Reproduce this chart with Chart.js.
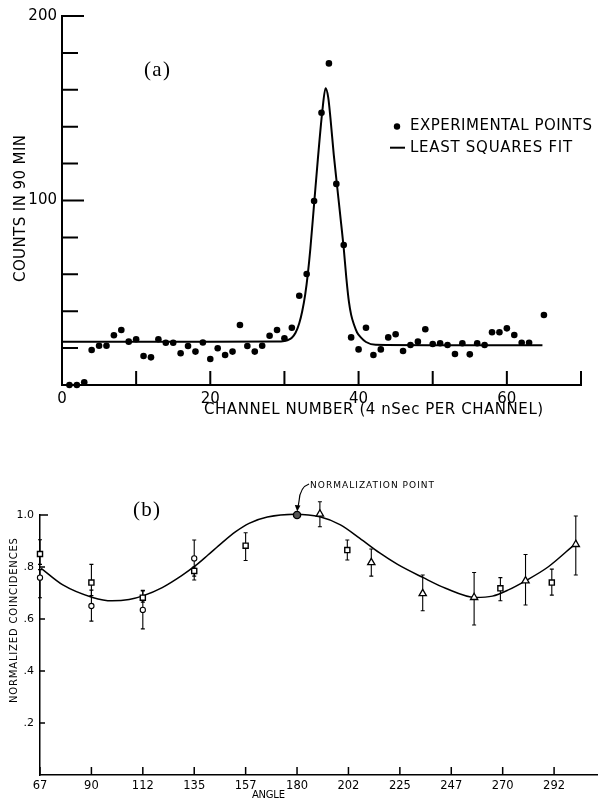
<!DOCTYPE html>
<html><head><meta charset="utf-8">
<script src="https://cdn.jsdelivr.net/npm/chart.js@4.4.1/dist/chart.umd.min.js"></script>
<style>
html,body{margin:0;padding:0;background:#fff;}
#wrap{position:relative;width:603px;height:800px;background:#fff;}
#c1{position:absolute;left:0;top:0;}
#c2{position:absolute;left:0;top:430px;}
</style></head><body>
<div id="wrap">
<canvas id="c1" width="603" height="430"></canvas>
<canvas id="c2" width="603" height="370"></canvas>
</div>
<script>
// ---------------- (a) data ----------------
const channels = [1,2,3,4,5,6,7,8,9,10,11,12,13,14,15,16,17,18,19,20,21,22,23,24,25,26,27,28,29,30,31,32,33,34,35,36,37,38,39,40,41,42,43,44,45,46,47,48,49,50,51,52,53,54,55,56,57,58,59,60,61,62,63,65];
const counts = [0,0,1.5,19,21.3,21.3,27,29.8,23.5,24.8,15.7,15,24.8,22.9,22.9,17.2,21.1,18.1,23,14.1,19.9,16.3,18.1,32.5,21.1,18.1,21.3,26.7,29.8,25.3,31,48.4,60.2,99.7,147.6,174.3,109,75.9,25.8,19.3,31,16.3,19.3,25.8,27.5,18.4,21.7,23.5,30.2,22.2,22.6,21.7,16.8,22.6,16.6,22.6,21.7,28.6,28.6,30.7,27.1,22.9,22.9,37.9];
const fitChannels = [0,10,20,29,30,30.5,31,31.5,32,32.4,32.8,33.15,33.5,34,34.5,35.1,35.55,35.9,36.2,36.65,37.1,37.5,38,38.35,38.7,39,39.4,39.8,40.3,41,42.3,50,64.8];
const fitCounts = [23.5,23.5,23.5,23.6,23.9,24.4,25.6,28.3,33.5,40,49,60,74,98,122,148,160.8,156,145,125,108,93,74,58,45,38,32.5,28.5,25.8,23.3,21.8,21.6,21.5];
const countLabelValues = [100,200];
const countMinorTicks = [20,40,60,80,120,140,160,180];
const channelLabelValues = [0,20,40,60];
const channelTickMarks = [10,20,30,40,50,60,70];

// ---------------- (b) data ----------------
const squareAngles = [67.5,90,112.5,135,157.5,202,269,291.5];
const squareValues = [0.85,0.74,0.682,0.785,0.882,0.865,0.718,0.74];
const squareLow    = [0.81,0.69,0.665,0.75,0.825,0.827,0.67,0.692];
const squareHigh   = [0.905,0.81,0.708,0.80,0.932,0.904,0.759,0.792];
const circleAngles = [67.5,90,112.5,135];
const circleValues = [0.759,0.65,0.635,0.833];
const circleLow    = [0.682,0.592,0.562,0.765];
const circleHigh   = [0.79,0.711,0.71,0.904];
const triangleAngles = [190,212.5,235,257.5,280,302];
const triangleValues = [1.004,0.817,0.698,0.683,0.747,0.887];
const triangleLow    = [0.955,0.765,0.632,0.577,0.654,0.769];
const triangleHigh   = [1.051,0.869,0.769,0.779,0.848,0.996];
const normAngles = [180];
const normValues = [1.0];
const curveAngles = [68,77.5,90.5,99,106.5,112.5,121,129.5,135.5,141,147,153,159,167,179,190,199,207.5,216,224,235,245,258,265.5,272.5,280,290,301.5];
const curveValues = [0.795,0.731,0.683,0.670,0.675,0.689,0.721,0.767,0.805,0.846,0.892,0.935,0.968,0.992,1.003,0.993,0.962,0.91,0.855,0.81,0.76,0.718,0.683,0.688,0.712,0.747,0.801,0.887];
const angleTickValues = [67.5,90,112.5,135,157.5,180,202.5,225,247.5,270,292.5];
const angleTickLabels = ['67','90','112','135','157','180','202','225','247','270','292'];
const coincTickValues = [0.2,0.4,0.6,0.8,1.0];
const coincTickLabels = ['.2','.4','.6','.8','1.0'];

Chart.defaults.font.family = "'DejaVu Sans', sans-serif";
Chart.defaults.color = '#000';

const zip = (xs, ys) => xs.map((x, i) => ({x, y: ys[i]}));

function fitText(ctx, text, cx, cy, width, font, rot) {
  ctx.save();
  ctx.font = font;
  ctx.fillStyle = '#000';
  if ('letterSpacing' in ctx) ctx.letterSpacing = '0px';
  const w = ctx.measureText(text).width;
  let drawW = w;
  if ('letterSpacing' in ctx && text.length > 1) {
    const sp = (width - w) / (text.length - 1);
    ctx.letterSpacing = sp.toFixed(2) + 'px';
    drawW = width;
  }
  ctx.translate(cx, cy);
  if (rot) ctx.rotate(rot);
  ctx.textAlign = 'left';
  ctx.textBaseline = 'middle';
  ctx.fillText(text, -drawW / 2, 0);
  ctx.restore();
}

// ---------------- chart (a) ----------------
const decoA = {
  id: 'decoA',
  afterDraw(chart) {
    const ctx = chart.ctx, xs = chart.scales.x, ys = chart.scales.y;
    const x0 = xs.left, y0 = ys.bottom;
    ctx.save();
    ctx.strokeStyle = '#000';
    ctx.lineWidth = 2;
    ctx.beginPath();
    countLabelValues.forEach(v => { const y = ys.getPixelForValue(v); ctx.moveTo(x0, y); ctx.lineTo(x0 + 22, y); });
    countMinorTicks.forEach(v => { const y = ys.getPixelForValue(v); ctx.moveTo(x0, y); ctx.lineTo(x0 + 16, y); });
    channelTickMarks.forEach(v => { const x = xs.getPixelForValue(v); ctx.moveTo(x, y0); ctx.lineTo(x, y0 - 14); });
    ctx.stroke();
    // legend
    ctx.fillStyle = '#000';
    ctx.beginPath(); ctx.arc(397, 126.5, 3.2, 0, Math.PI * 2); ctx.fill();
    ctx.beginPath(); ctx.moveTo(390, 147.7); ctx.lineTo(405, 147.7); ctx.stroke();
    ctx.restore();
    fitText(ctx, 'EXPERIMENTAL POINTS', 501, 126.5, 182, "15px 'DejaVu Sans'");
    fitText(ctx, 'LEAST SQUARES FIT', 491, 148.5, 162, "15px 'DejaVu Sans'");
    fitText(ctx, '(a)', 157, 70, 26, "21px 'Liberation Serif'");
    fitText(ctx, 'CHANNEL NUMBER (4 nSec PER CHANNEL)', 373.5, 410, 339, "15px 'DejaVu Sans'");
    fitText(ctx, 'COUNTS IN 90 MIN', 21, 208.5, 147, "15px 'DejaVu Sans'", -Math.PI / 2);
  }
};

new Chart(document.getElementById('c1'), {
  type: 'scatter',
  data: {
    datasets: [
      { label: 'EXPERIMENTAL POINTS', data: zip(channels, counts), pointRadius: 3.3, pointHoverRadius: 3.3,
        pointBackgroundColor: '#000', pointBorderWidth: 0, showLine: false, clip: false },
      { label: 'LEAST SQUARES FIT', data: zip(fitChannels, fitCounts), showLine: true, pointRadius: 0,
        borderColor: '#000', borderWidth: 2, cubicInterpolationMode: 'monotone', fill: false, clip: false }
    ]
  },
  options: {
    responsive: false, animation: false, devicePixelRatio: 1,
    layout: { padding: { top: 16, right: 22, left: 0, bottom: 0 } },
    plugins: { legend: { display: false }, tooltip: { enabled: false } },
    scales: {
      x: {
        type: 'linear', min: 0, max: 70,
        afterBuildTicks: s => { s.ticks = channelLabelValues.map(v => ({ value: v })); },
        afterFit: s => { s.height = 45; },
        grid: { display: false, drawTicks: false },
        border: { display: true, color: '#000', width: 2 },
        ticks: { color: '#000', font: { size: 15 }, padding: 5, maxRotation: 0, autoSkip: false, callback: v => String(v) }
      },
      y: {
        type: 'linear', min: 0, max: 200,
        afterBuildTicks: s => { s.ticks = countLabelValues.map(v => ({ value: v })); },
        afterFit: s => { s.width = 62; },
        grid: { display: false, drawTicks: false },
        border: { display: true, color: '#000', width: 2 },
        ticks: { color: '#000', font: { size: 15 }, padding: 5, autoSkip: false, callback: v => String(v) }
      }
    }
  },
  plugins: [decoA]
});

// ---------------- chart (b) ----------------
const decoB = {
  id: 'decoB',
  beforeDatasetsDraw(chart) {
    const ctx = chart.ctx, ys = chart.scales.y;
    ctx.save();
    ctx.strokeStyle = '#000';
    ctx.lineWidth = 1.1;
    chart.data.datasets.forEach((ds, i) => {
      if (!ds.errLow) return;
      const meta = chart.getDatasetMeta(i);
      meta.data.forEach((el, j) => {
        const yl = ys.getPixelForValue(ds.errLow[j]);
        const yh = ys.getPixelForValue(ds.errHigh[j]);
        ctx.beginPath();
        ctx.moveTo(el.x, yl); ctx.lineTo(el.x, yh);
        ctx.moveTo(el.x - 2, yl); ctx.lineTo(el.x + 2, yl);
        ctx.moveTo(el.x - 2, yh); ctx.lineTo(el.x + 2, yh);
        ctx.stroke();
      });
    });
    ctx.restore();
  },
  afterDraw(chart) {
    const ctx = chart.ctx, xs = chart.scales.x, ys = chart.scales.y;
    const x0 = xs.left, y0 = ys.bottom;
    ctx.save();
    ctx.strokeStyle = '#000';
    ctx.lineWidth = 1.5;
    ctx.beginPath();
    coincTickValues.forEach(v => { const y = ys.getPixelForValue(v); ctx.moveTo(x0, y); ctx.lineTo(x0 + (v === 1 ? 8 : 5), y); });
    angleTickValues.forEach(v => { const x = xs.getPixelForValue(v); ctx.moveTo(x, y0); ctx.lineTo(x, y0 - 8); });
    ctx.stroke();
    // normalization point leader with arrow
    const px = xs.getPixelForValue(normAngles[0]), py = ys.getPixelForValue(normValues[0]);
    ctx.lineWidth = 1.2;
    ctx.beginPath();
    ctx.moveTo(px + 12, py - 31);
    ctx.quadraticCurveTo(px + 3, py - 28, px + 2, py - 14);
    ctx.lineTo(px + 1, py - 8);
    ctx.stroke();
    ctx.fillStyle = '#000';
    ctx.beginPath();
    ctx.moveTo(px + 0.2, py - 3.5);
    ctx.lineTo(px - 2.2, py - 10);
    ctx.lineTo(px + 3.4, py - 9.4);
    ctx.closePath();
    ctx.fill();
    ctx.restore();
    fitText(ctx, 'NORMALIZATION POINT', px + 75, py - 29, 124, "9px 'DejaVu Sans'");
    fitText(ctx, '(b)', 146.5, 80.5, 27, "21px 'Liberation Serif'");
    fitText(ctx, 'NORMALIZED COINCIDENCES', 14, 190.5, 165, "10px 'DejaVu Sans'", -Math.PI / 2);
    fitText(ctx, 'ANGLE', 268.5, 365, 33, "10px 'DejaVu Sans'");
  }
};

new Chart(document.getElementById('c2'), {
  type: 'scatter',
  data: {
    datasets: [
      { label: 'normalization', data: zip(normAngles, normValues), pointStyle: 'circle', pointRadius: 3.6,
        pointBackgroundColor: '#555', pointBorderColor: '#000', pointBorderWidth: 1.4, showLine: false, clip: false },
      { label: 'squares', data: zip(squareAngles, squareValues), errLow: squareLow, errHigh: squareHigh,
        pointStyle: 'rect', pointRadius: 3.6, pointBackgroundColor: '#fff', pointBorderColor: '#000', pointBorderWidth: 1.4, showLine: false, clip: false },
      { label: 'circles', data: zip(circleAngles, circleValues), errLow: circleLow, errHigh: circleHigh,
        pointStyle: 'circle', pointRadius: 2.6, pointBackgroundColor: '#fff', pointBorderColor: '#000', pointBorderWidth: 1.1, showLine: false, clip: false },
      { label: 'triangles', data: zip(triangleAngles, triangleValues), errLow: triangleLow, errHigh: triangleHigh,
        pointStyle: 'triangle', pointRadius: 4.2, pointBackgroundColor: '#fff', pointBorderColor: '#000', pointBorderWidth: 1.3, showLine: false, clip: false },
      { label: 'fit', data: zip(curveAngles, curveValues), showLine: true, pointRadius: 0,
        borderColor: '#000', borderWidth: 1.5, cubicInterpolationMode: 'monotone', fill: false, clip: false }
    ]
  },
  options: {
    responsive: false, animation: false, devicePixelRatio: 1,
    layout: { padding: { top: 85, right: 0, left: 0, bottom: 0 } },
    plugins: { legend: { display: false }, tooltip: { enabled: false } },
    scales: {
      x: {
        type: 'linear', min: 67.5, max: 311.5,
        afterBuildTicks: s => { s.ticks = angleTickValues.map(v => ({ value: v })); },
        afterFit: s => { s.height = 25; },
        grid: { display: false, drawTicks: false },
        border: { display: true, color: '#000', width: 1.5 },
        ticks: { color: '#000', font: { size: 11.5 }, padding: 4, maxRotation: 0, autoSkip: false,
                 callback: (v, i) => angleTickLabels[i] }
      },
      y: {
        type: 'linear', min: 0, max: 1.0,
        afterBuildTicks: s => { s.ticks = coincTickValues.map(v => ({ value: v })); },
        afterFit: s => { s.width = 40; },
        grid: { display: false, drawTicks: false },
        border: { display: true, color: '#000', width: 1.5 },
        ticks: { color: '#000', font: { size: 11 }, padding: 6, autoSkip: false,
                 callback: (v, i) => coincTickLabels[i] }
      }
    }
  },
  plugins: [decoB]
});
</script>
</body></html>
